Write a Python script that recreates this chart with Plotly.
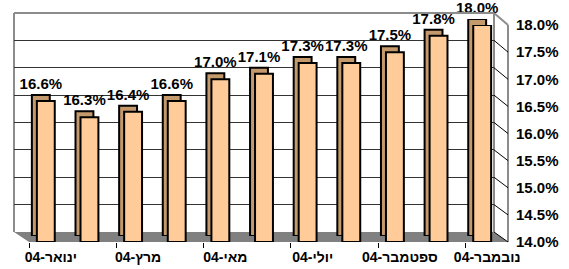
import plotly.graph_objects as go

months = ["ינואר-04", "פברואר-04", "מרץ-04", "אפריל-04", "מאי-04", "יוני-04",
          "יולי-04", "אוגוסט-04", "ספטמבר-04", "אוקטובר-04", "נובמבר-04"]
values = [16.6, 16.3, 16.4, 16.6, 17.0, 17.1, 17.3, 17.3, 17.5, 17.8, 18.0]
y_ticks = [14.0, 14.5, 15.0, 15.5, 16.0, 16.5, 17.0, 17.5, 18.0]
y_min, y_max = 14.0, 18.0

W, H = 569, 269
def fx(p): return p / W
def fy(p): return 1 - p / H

pos = list(range(len(months)))
xr = [-0.5, len(months) - 0.5]
FONT = "Liberation Sans, Arial, DejaVu Sans, sans-serif"

# pixel geometry of the pseudo-3D planes
wall = dict(x0=14, x1=494, ytop=13, ybot=232)
back = dict(x0=19, x1=499, ytop=19, ybot=236)
front = dict(x0=24, x1=504, ytop=25, ybot=242)
lab = dict(x0=29, x1=509)
axis_x = 508

fig = go.Figure()
fig.add_trace(go.Scatter(x=pos, y=values, xaxis="x", yaxis="y", mode="markers",
                         marker=dict(opacity=0), hoverinfo="skip", showlegend=False))
fig.add_trace(go.Bar(x=pos, y=[v - y_min for v in values], base=y_min, xaxis="x2", yaxis="y2",
                     width=0.41, marker=dict(color="#C49A6C", line=dict(color="black", width=2)),
                     text=[f"{v:.1f}%" for v in values], textposition="outside",
                     textfont=dict(family=FONT, size=15, color="black", weight="bold"),
                     cliponaxis=False, constraintext="none", textangle=0,
                     hoverinfo="skip", showlegend=False))
fig.add_trace(go.Bar(x=pos, y=[v - y_min for v in values], base=y_min, xaxis="x3", yaxis="y3",
                     width=0.41, marker=dict(color="#FFCC99", line=dict(color="black", width=2)),
                     hoverinfo="skip", showlegend=False))
fig.add_trace(go.Scatter(x=pos, y=values, xaxis="x4", yaxis="y3", mode="markers",
                         marker=dict(opacity=0), hoverinfo="skip", showlegend=False))

hidden_x = dict(range=xr, showgrid=False, showticklabels=False, zeroline=False, showline=False,
                ticks="", automargin=False)
hidden_y = dict(range=[y_min, y_max], showgrid=False, showticklabels=False, zeroline=False,
                showline=False, ticks="", automargin=False)

GREY = "#8c8c8c"
shapes = []
shapes.append(dict(type="path", xref="paper", yref="paper", layer="below",
                   path=f"M {fx(wall['x0'])},{fy(wall['ybot'])} L {fx(wall['x1'])},{fy(wall['ybot'])} "
                        f"L {fx(axis_x)},{fy(front['ybot'])} L {fx(lab['x0'])},{fy(front['ybot'])} Z",
                   fillcolor="#808080", line=dict(width=0)))
shapes.append(dict(type="line", xref="paper", yref="paper", layer="below",
                   x0=fx(wall['x0']), x1=fx(wall['x0']),
                   y0=fy(wall['ybot']), y1=fy(wall['ytop']), line=dict(color=GREY, width=2)))
shapes.append(dict(type="line", xref="paper", yref="paper", layer="below",
                   x0=fx(wall['x1']), x1=fx(wall['x1']),
                   y0=fy(wall['ybot']), y1=fy(wall['ytop']), line=dict(color=GREY, width=2)))
shapes.append(dict(type="line", xref="paper", yref="paper", x0=fx(wall['x0']), x1=fx(wall['x1']),
                   y0=fy(wall['ytop']), y1=fy(wall['ytop']), line=dict(color=GREY, width=2)))
shapes.append(dict(type="line", xref="paper", yref="paper", x0=fx(wall['x1']), x1=fx(axis_x),
                   y0=fy(wall['ytop']), y1=fy(front['ytop']), line=dict(color=GREY, width=2)))
for v in y_ticks[:-1]:
    yb = wall['ybot'] - (v - y_min) / (y_max - y_min) * (wall['ybot'] - wall['ytop'])
    yf = front['ybot'] - (v - y_min) / (y_max - y_min) * (front['ybot'] - front['ytop'])
    shapes.append(dict(type="line", xref="paper", yref="paper", x0=fx(wall['x1']), x1=fx(axis_x),
                       y0=fy(yb), y1=fy(yf), line=dict(color="black", width=1)))

fig.update_layout(
    template="none",
    width=W, height=H, autosize=False,
    margin=dict(l=0, r=0, t=0, b=0, pad=0),
    paper_bgcolor="white", plot_bgcolor="rgba(0,0,0,0)",
    barmode="overlay", showlegend=False,
    font=dict(family=FONT, color="black"),
    xaxis=dict(domain=[fx(wall['x0']), fx(wall['x1'])], anchor="y", **hidden_x),
    yaxis=dict(domain=[fy(wall['ybot']), fy(wall['ytop'])], anchor="x", range=[y_min, y_max],
               tickvals=y_ticks, showgrid=True, gridcolor="#333333", gridwidth=1,
               showticklabels=False, zeroline=False, showline=False, ticks="", automargin=False),
    xaxis2=dict(domain=[fx(back['x0']), fx(back['x1'])], anchor="y2", **hidden_x),
    yaxis2=dict(domain=[fy(back['ybot']), fy(back['ytop'])], anchor="x2", **hidden_y),
    xaxis3=dict(domain=[fx(front['x0']), fx(front['x1'])], anchor="y3", **hidden_x),
    yaxis3=dict(domain=[fy(front['ybot']), fy(front['ytop'])], anchor="free", position=fx(axis_x),
                side="right", range=[y_min, y_max], tickvals=y_ticks,
                ticktext=[f"{v:.1f}%" for v in y_ticks], showgrid=False, zeroline=False,
                showline=True, linecolor=GREY, linewidth=2, ticks="",
                ticklabelstandoff=4, automargin=False,
                tickfont=dict(family=FONT, size=15, color="black", weight="bold")),
    xaxis4=dict(domain=[fx(lab['x0']), fx(lab['x1'])], anchor="y3", range=xr,
                tickvals=pos[::2], ticktext=months[::2], showgrid=False, zeroline=False,
                showline=False, ticks="", ticklabelstandoff=5, automargin=False,
                tickfont=dict(family=FONT, size=14, color="black", weight="bold"),
                minor=dict(tickvals=[p - 0.5 for p in pos[::2]], ticks="outside", ticklen=5,
                           tickcolor="black", tickwidth=1, showgrid=False)),
    shapes=shapes,
)

fig.write_html("out.html", config={"displayModeBar": False},
               post_script="document.body.style.margin='0';document.body.style.overflow='hidden';")
